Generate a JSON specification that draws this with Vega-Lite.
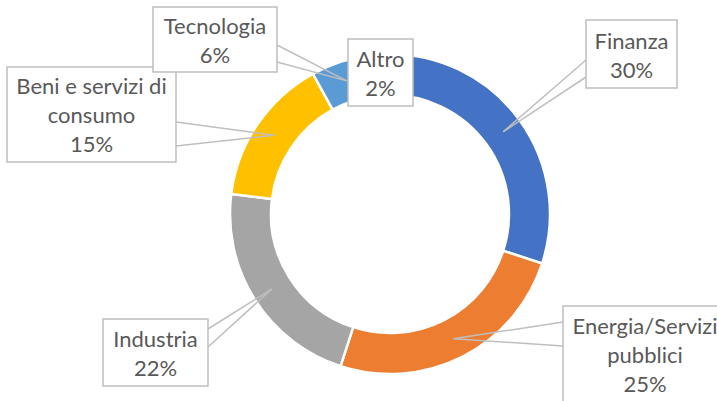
{
  "$schema": "https://vega.github.io/schema/vega-lite/v6.json",
  "width": 717,
  "height": 401,
  "autosize": {"type": "none"},
  "padding": 0,
  "background": "white",
  "view": {"stroke": null},
  "config": {"font": "Lato"},
  "data": {
    "values": [
      {"cat": "Finanza", "value": 30},
      {"cat": "Energia/Servizi pubblici", "value": 25},
      {"cat": "Industria", "value": 22},
      {"cat": "Beni e servizi di consumo", "value": 15},
      {"cat": "Tecnologia", "value": 6},
      {"cat": "Altro", "value": 2}
    ]
  },
  "transform": [
    {"window": [{"op": "row_number", "as": "ord"}, {"op": "sum", "field": "value", "as": "cum"}], "frame": [null, 0]},
    {"joinaggregate": [{"op": "sum", "field": "value", "as": "tot"}]},
    {"calculate": "2*PI*(datum.cum - datum.value/2)/datum.tot", "as": "ang"},
    {"calculate": "140*sin(datum.ang)", "as": "tipx"},
    {"calculate": "-140*cos(datum.ang)", "as": "tipy"},
    {"calculate": "[196,173,-287,-383,-237,-42][datum.ord-1]", "as": "bx1"},
    {"calculate": "[287,345,-182,-214,-113,23][datum.ord-1]", "as": "bx2"},
    {"calculate": "[-194,92,105,-147,-207,-175][datum.ord-1]", "as": "by1"},
    {"calculate": "[-126,200,172,-52,-142,-108][datum.ord-1]", "as": "by2"},
    {"calculate": "[196,173,-182,-214,-113,-9][datum.ord-1]", "as": "wx"},
    {"calculate": "[-154,108,115,-92,-169,-140][datum.ord-1]", "as": "wy1"},
    {"calculate": "[-137,132,133,-68,-152,-140][datum.ord-1]", "as": "wy2"},
    {"calculate": "[241.5,255,-234.5,-298.5,-175,-9.5][datum.ord-1]", "as": "tx"},
    {"calculate": "[-172,113,126,-127,-187,-154][datum.ord-1]", "as": "ty"},
    {"calculate": "replace(replace(datum.cat, 'di consumo', 'di\\nconsumo'), 'Servizi pubblici', 'Servizi\\npubblici') + '\\n' + datum.value + '%'", "as": "lab"}
  ],
  "layer": [
    {
      "mark": {"type": "arc", "innerRadius": 119, "outerRadius": 160, "stroke": "white", "strokeWidth": 2.5},
      "encoding": {
        "theta": {"field": "value", "type": "quantitative", "stack": true},
        "order": {"field": "ord", "type": "quantitative"},
        "color": {
          "field": "cat",
          "type": "nominal",
          "scale": {
            "domain": ["Finanza", "Energia/Servizi pubblici", "Industria", "Beni e servizi di consumo", "Tecnologia", "Altro"],
            "range": ["#4472C4", "#ED7D31", "#A5A5A5", "#FFC000", "#5B9BD5", "#70AD47"]
          },
          "legend": null
        },
        "x": {"datum": 0, "type": "quantitative", "scale": {"domain": [-390, 327], "nice": false, "zero": false}, "axis": null},
        "y": {"datum": 0, "type": "quantitative", "scale": {"domain": [-214, 187], "nice": false, "zero": false, "reverse": true}, "axis": null}
      }
    },
    {
      "mark": {"type": "rule", "color": "#BFBFBF", "strokeWidth": 1.5},
      "encoding": {
        "x": {"field": "tipx", "type": "quantitative", "scale": {"domain": [-390, 327], "nice": false, "zero": false}, "axis": null},
        "y": {"field": "tipy", "type": "quantitative", "scale": {"domain": [-214, 187], "nice": false, "zero": false, "reverse": true}, "axis": null},
        "x2": {"field": "wx"},
        "y2": {"field": "wy1"}
      }
    },
    {
      "mark": {"type": "rule", "color": "#BFBFBF", "strokeWidth": 1.5},
      "encoding": {
        "x": {"field": "tipx", "type": "quantitative", "axis": null},
        "y": {"field": "tipy", "type": "quantitative", "axis": null},
        "x2": {"field": "wx"},
        "y2": {"field": "wy2"}
      }
    },
    {
      "mark": {"type": "rect", "fill": "white", "stroke": "#BFBFBF", "strokeWidth": 1.5, "clip": true},
      "encoding": {
        "x": {"field": "bx1", "type": "quantitative", "axis": null},
        "x2": {"field": "bx2"},
        "y": {"field": "by1", "type": "quantitative", "axis": null},
        "y2": {"field": "by2"}
      }
    },
    {
      "mark": {"type": "text", "font": "Lato", "fontSize": 22, "color": "#595959", "lineBreak": "\n", "lineHeight": 29, "align": "center", "baseline": "middle"},
      "encoding": {
        "x": {"field": "tx", "type": "quantitative", "axis": null},
        "y": {"field": "ty", "type": "quantitative", "axis": null},
        "text": {"field": "lab", "type": "nominal"}
      }
    }
  ]
}
